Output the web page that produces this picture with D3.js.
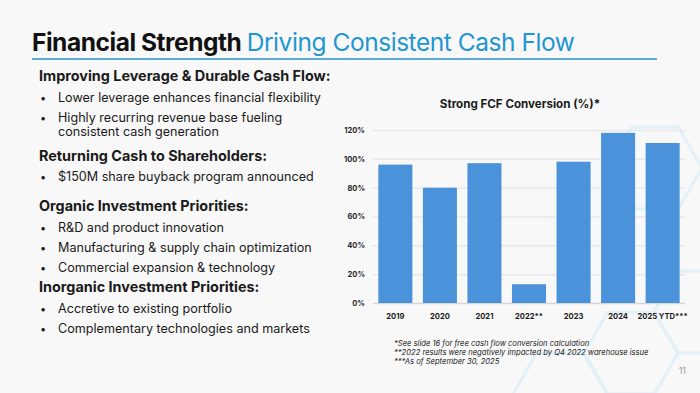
<!DOCTYPE html>
<html>
<head>
<meta charset="utf-8">
<script src="https://cdn.jsdelivr.net/npm/d3@7"></script>
<style>
  html, body { margin: 0; padding: 0; background: #f8f8f8; }
  svg { display: block; }
</style>
</head>
<body>
<svg id="slide" width="700" height="393"></svg>
<script>
// chart data
var years = ["2019", "2020", "2021", "2022**", "2023", "2024", "2025 YTD***"];
var fcfConversion = [96, 80, 97, 13, 98, 118, 111];
var yTicks = [0, 20, 40, 60, 80, 100, 120];

// slide text
var sections = [
  { head: "Improving Leverage & Durable Cash Flow:", items: [["Lower leverage enhances financial flexibility"], ["Highly recurring revenue base fueling", "consistent cash generation"]] },
  { head: "Returning Cash to Shareholders:", items: [["$150M share buyback program announced"]] },
  { head: "Organic Investment Priorities:", items: [["R&D and product innovation"], ["Manufacturing & supply chain optimization"], ["Commercial expansion & technology"]] },
  { head: "Inorganic Investment Priorities:", items: [["Accretive to existing portfolio"], ["Complementary technologies and markets"]] }
];
var footnotes = [
  "*See slide 16 for free cash flow conversion calculation",
  "**2022 results were negatively impacted by Q4 2022 warehouse issue",
  "***As of September 30, 2025"
];
var hexCenters = [[631, 353], [701, 312], [560, 394], [655, 168]];

var svg = d3.select("#slide");
var font = "Inter, 'Noto Sans', sans-serif";

// faint hexagon decoration
var hexR = 47;
svg.append("g").selectAll("path")
    .data(hexCenters)
  .enter().append("path")
    .attr("d", function(c) {
      return d3.line()(d3.range(7).map(function(i) {
        var a = Math.PI / 3 * i;
        return [c[0] + hexR * Math.cos(a), c[1] + hexR * Math.sin(a)];
      }));
    })
    .style("fill", "none")
    .style("stroke", "#e2f0f8")
    .style("stroke-width", 3);

// title
var title = svg.append("text")
    .attr("x", 32)
    .attr("y", 51)
    .style("font-family", font)
    .style("font-size", "24.5px")
    .style("letter-spacing", "-0.45px");
title.append("tspan").style("font-weight", 700).style("fill", "#111").text("Financial Strength ");
title.append("tspan").style("font-weight", 400).style("fill", "#1e96d2").text("Driving Consistent Cash Flow");

svg.append("line")
    .attr("x1", 32).attr("x2", 657)
    .attr("y1", 59).attr("y2", 59)
    .style("stroke", "#2a92cc")
    .style("stroke-width", 1.5);

// left column, gap before each following heading differs a bit on the slide
var headGap = [25, 30, 20];
var lines = [];
var yy = 81;
sections.forEach(function(s, si) {
  lines.push({ text: s.head, y: yy, head: true });
  yy += 20.5;
  s.items.forEach(function(it, ii) {
    it.forEach(function(t, k) {
      lines.push({ text: t, y: yy, bullet: k == 0 });
      if (k < it.length - 1) yy += 14;
      else if (ii < s.items.length - 1) yy += 20.3;
    });
  });
  yy += headGap[si] || 0;
});

var left = svg.append("g")
    .style("font-family", font)
    .style("fill", "#1a1a1a");

left.selectAll("text.line")
    .data(lines)
  .enter().append("text")
    .attr("class", "line")
    .attr("x", function(d) { return d.head ? 39 : 58; })
    .attr("y", function(d) { return d.y; })
    .style("font-size", function(d) { return d.head ? "14.4px" : "12.6px"; })
    .style("font-weight", function(d) { return d.head ? 700 : 400; })
    .text(function(d) { return d.text; });

left.selectAll("text.dot")
    .data(lines.filter(function(d) { return d.bullet; }))
  .enter().append("text")
    .attr("class", "dot")
    .attr("x", 40)
    .attr("y", function(d) { return d.y; })
    .style("font-size", "11px")
    .text("\u2022");

// chart
var x = d3.scaleBand()
    .domain(years)
    .range([373, 685])
    .paddingInner(0.236)
    .paddingOuter(0.12);

var y = d3.scaleLinear()
    .domain([0, 120])
    .range([303, 130]);

var chart = svg.append("g").style("font-family", font);

chart.append("text")
    .attr("x", 520)
    .attr("y", 108)
    .attr("text-anchor", "middle")
    .style("font-size", "11.6px")
    .style("font-weight", 700)
    .style("fill", "#1a1a1a")
    .text("Strong FCF Conversion (%)*");

var yAxis = chart.append("g")
    .attr("transform", "translate(373,0)")
    .call(d3.axisLeft(y).tickValues(yTicks).tickSize(-312).tickPadding(8)
      .tickFormat(function(d) { return d + "%"; }));
yAxis.select(".domain").remove();
yAxis.selectAll(".tick line")
    .style("stroke", function(d) { return d == 0 ? "#d6d6d6" : "#e8e8e8"; })
    .style("stroke-width", 1.5);
yAxis.selectAll(".tick text")
    .style("font-family", font)
    .style("font-size", "7.5px")
    .style("font-weight", 700)
    .style("fill", "#262626");

chart.selectAll("rect.bar")
    .data(fcfConversion)
  .enter().append("rect")
    .attr("class", "bar")
    .attr("x", function(d, i) { return x(years[i]); })
    .attr("width", x.bandwidth())
    .attr("y", function(d) { return y(d); })
    .attr("height", function(d) { return y(0) - y(d); })
    .style("fill", "#4a92d9");

var xAxis = chart.append("g")
    .attr("transform", "translate(0,303)")
    .call(d3.axisBottom(x).tickSize(0).tickPadding(11));
xAxis.select(".domain").remove();
xAxis.selectAll(".tick text")
    .style("font-family", font)
    .style("font-size", "7.6px")
    .style("font-weight", 700)
    .style("fill", "#1a1a1a");

// footnotes
svg.append("g").selectAll("text")
    .data(footnotes)
  .enter().append("text")
    .attr("x", 394)
    .attr("y", function(d, i) { return 346 + i * 9; })
    .style("font-family", font)
    .style("font-size", "7.6px")
    .style("font-style", "italic")
    .style("fill", "#1a1a1a")
    .text(function(d) { return d; });

svg.append("text")
    .attr("x", 686)
    .attr("y", 374)
    .attr("text-anchor", "end")
    .style("font-family", font)
    .style("font-size", "9px")
    .style("fill", "#9a9a9a")
    .text("11");
</script>
</body>
</html>
